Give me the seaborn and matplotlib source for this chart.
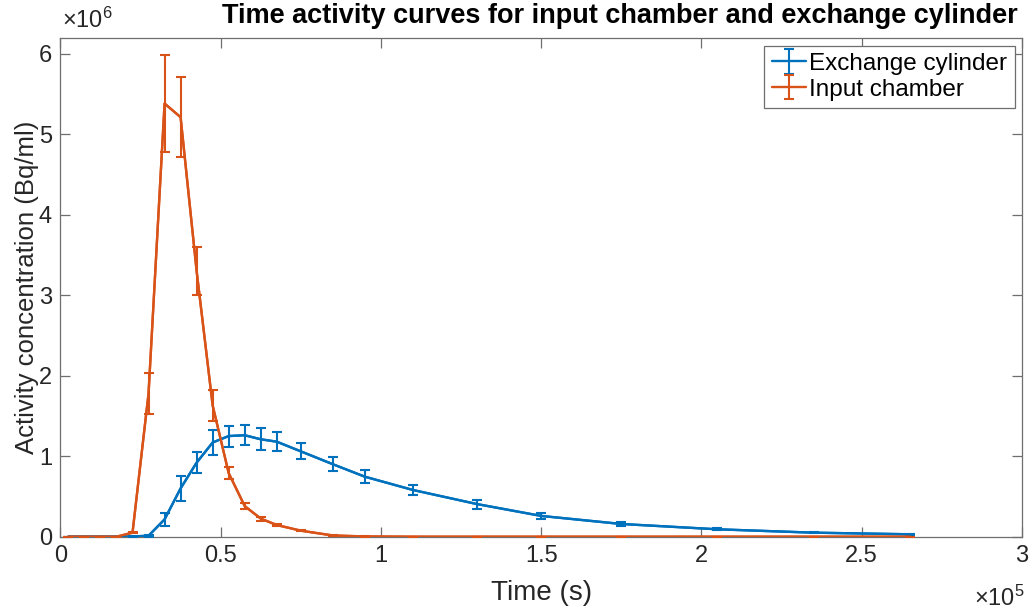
import numpy as np
import pandas as pd
import matplotlib
matplotlib.use("Agg")
import matplotlib.pyplot as plt
import seaborn as sns
from matplotlib.ticker import FixedLocator, FixedFormatter
from matplotlib import font_manager

# ---------------- data ----------------
time_s = [2500, 7500, 12500, 17500, 22500, 27500, 32500, 37500, 42500, 47500,
          52500, 57500, 62500, 67500, 75000, 85000, 95000, 110000, 130000,
          150000, 175000, 205000, 235000, 265000]
exchange_cylinder = [0, 0, 0, 0, 0.003e6, 0.012e6, 0.215e6, 0.60e6, 0.92e6, 1.17e6,
                     1.25e6, 1.26e6, 1.21e6, 1.18e6, 1.06e6, 0.90e6, 0.745e6, 0.58e6,
                     0.405e6, 0.258e6, 0.158e6, 0.092e6, 0.05e6, 0.03e6]
exchange_err = [0, 0, 0, 0, 0.002e6, 0.01e6, 0.085e6, 0.155e6, 0.13e6, 0.15e6,
                0.13e6, 0.125e6, 0.135e6, 0.12e6, 0.10e6, 0.09e6, 0.08e6, 0.065e6,
                0.055e6, 0.035e6, 0.02e6, 0.012e6, 0.008e6, 0.005e6]
input_chamber = [0, 0, 0, 0, 0.05e6, 1.78e6, 5.38e6, 5.21e6, 3.30e6, 1.63e6,
                 0.79e6, 0.38e6, 0.225e6, 0.145e6, 0.075e6, 0.015e6, 0.003e6, 0,
                 0, 0, 0, 0, 0, 0]
input_err = [0, 0, 0, 0, 0.01e6, 0.25e6, 0.60e6, 0.50e6, 0.30e6, 0.19e6,
             0.07e6, 0.04e6, 0.025e6, 0.015e6, 0.008e6, 0.003e6, 0.001e6, 0,
             0, 0, 0, 0, 0, 0]
series_names = ["Exchange cylinder", "Input chamber"]
x_tick_values = [0, 0.5e5, 1.0e5, 1.5e5, 2.0e5, 2.5e5, 3.0e5]
x_tick_labels = ["0", "0.5", "1", "1.5", "2", "2.5", "3"]
y_tick_values = [0, 1e6, 2e6, 3e6, 4e6, 5e6, 6e6]
y_tick_labels = ["0", "1", "2", "3", "4", "5", "6"]

BLUE = "#0072BD"
ORANGE = "#D95319"
TXT = "#262626"
BOX = "#6e6e6e"

sns.set_theme(style="white")
names = {f.name for f in font_manager.fontManager.ttflist}
main_font = "Liberation Sans Narrow" if "Liberation Sans Narrow" in names else "Liberation Sans"
plt.rcParams["font.family"] = [main_font, "DejaVu Sans"]
plt.rcParams["mathtext.fontset"] = "custom"
plt.rcParams["mathtext.rm"] = main_font

W, H = 1030, 615
fig = plt.figure(figsize=(W / 100, H / 100), dpi=100)
L, R, T, B = 60.4, 1022.0, 38.3, 536.7
ax = fig.add_axes([L / W, 1 - B / H, (R - L) / W, (B - T) / H])

n = len(time_s)
df = pd.DataFrame({
    "time": time_s * 2,
    "activity": exchange_cylinder + input_chamber,
    "region": [series_names[0]] * n + [series_names[1]] * n,
})

colors = [BLUE, ORANGE]
ys = [exchange_cylinder, input_chamber]
errs = [exchange_err, input_err]
handles = []
for name, col, y, e in zip(series_names, colors, ys, errs):
    sub = df[df["region"] == name]
    sns.lineplot(data=sub, x="time", y="activity", color=col, linewidth=1.7,
                 sort=False, legend=False, ax=ax, zorder=3)
    eb = ax.errorbar(sub["time"], sub["activity"], yerr=e, fmt="-", color=col,
                     linewidth=1.7, ecolor=col, elinewidth=1.5,
                     capsize=3.5, capthick=1.5, zorder=3)
    handles.append(eb)

ax.set_xlim(0, 3e5)
ax.set_ylim(0, 6.19e6)
ax.xaxis.set_major_locator(FixedLocator(x_tick_values))
ax.xaxis.set_major_formatter(FixedFormatter(x_tick_labels))
ax.yaxis.set_major_locator(FixedLocator(y_tick_values))
ax.yaxis.set_major_formatter(FixedFormatter(y_tick_labels))

for s in ax.spines.values():
    s.set_visible(True)
    s.set_color(BOX)
    s.set_linewidth(0.9)
ax.tick_params(direction="in", length=7, width=0.9, color=BOX,
               top=True, right=True, bottom=True, left=True,
               labelsize=17, labelcolor=TXT, pad=6)
ax.grid(False)

ax.set_xlabel("Time (s)", fontsize=20, color=TXT, labelpad=9)
ax.set_ylabel("Activity concentration (Bq/ml)", fontsize=18.5, color=TXT)
ax.yaxis.set_label_coords(-21 / (R - L), 0.5)

fig.text(620 / W, 1 - 16 / H, "Time activity curves for input chamber and exchange cylinder",
         ha="center", va="center", fontsize=19.5, fontweight="bold", color="black")
fig.text(62 / W, 1 - 20 / H, r"$\times\mathregular{10^{6}}$", ha="left", va="center",
         fontsize=17, color=TXT)
fig.text(1025 / W, 1 - 598 / H, r"$\times\mathregular{10^{5}}$", ha="right", va="center",
         fontsize=17, color=TXT)

leg = ax.legend(handles, series_names, loc="upper right",
                fontsize=17.5, frameon=True, fancybox=False, framealpha=1,
                edgecolor=BOX, borderpad=0.3, handlelength=1.4, handletextpad=0.15,
                labelspacing=0.15, borderaxespad=0.3)
leg.get_frame().set_linewidth(0.9)
for t in leg.get_texts():
    t.set_color("black")

fig.savefig("out.png", dpi=100, facecolor="white")
